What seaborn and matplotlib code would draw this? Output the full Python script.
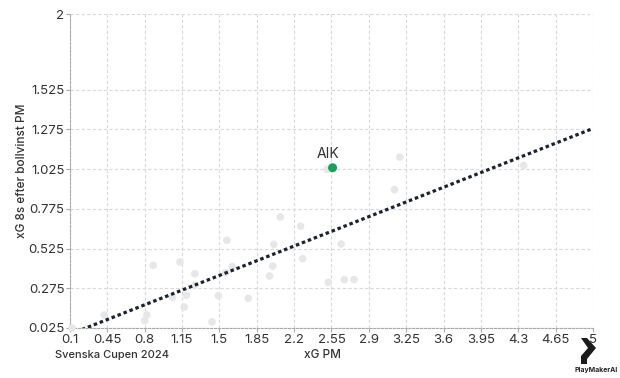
import matplotlib
matplotlib.use("Agg")
import matplotlib.pyplot as plt
import seaborn as sns
import pandas as pd
from matplotlib.patches import Polygon

# ---- data ----
team_x = [0.12, 0.42, 0.80, 0.82, 0.88, 1.06, 1.13, 1.17, 1.19, 1.27, 1.27, 1.43,
          1.49, 1.56, 1.57, 1.62, 1.77, 1.97, 2.00, 2.01, 2.07, 2.26, 2.28, 2.52,
          2.51, 2.64, 2.67, 2.76, 3.14, 3.19, 4.35]
team_y = [0.025, 0.107, 0.071, 0.107, 0.419, 0.218, 0.440, 0.157, 0.231, 0.366, 0.294, 0.063,
          0.228, 0.373, 0.577, 0.411, 0.212, 0.352, 0.415, 0.551, 0.723, 0.665, 0.461, 0.312,
          1.023, 0.553, 0.329, 0.329, 0.895, 1.100, 1.048]
highlight_name = ["AIK"]
highlight_x = [2.56]
highlight_y = [1.033]
trend_x = [0.1, 5.0]
trend_y = [-0.014, 1.28]
x_ticks = [0.1, 0.45, 0.8, 1.15, 1.5, 1.85, 2.2, 2.55, 2.9, 3.25, 3.6, 3.95, 4.3, 4.65, 5]
x_ticklabels = ["0.1", "0.45", "0.8", "1.15", "1.5", "1.85", "2.2", "2.55", "2.9", "3.25",
                "3.6", "3.95", "4.3", "4.65", "5"]
y_ticks = [0.025, 0.275, 0.525, 0.775, 1.025, 1.275, 1.525, 2]
y_ticklabels = ["0.025", "0.275", "0.525", "0.775", "1.025", "1.275", "1.525", "2"]

sns.set_theme(style="white")
plt.rcParams['font.family'] = ['Inter', 'DejaVu Sans']

fig = plt.figure(figsize=(6.2, 3.78), dpi=100)
ax = fig.add_axes([70/620, 1 - 328/378, (593 - 70)/620, (328 - 14)/378])

df = pd.DataFrame({"x": team_x, "y": team_y})
hdf = pd.DataFrame({"x": highlight_x, "y": highlight_y, "name": highlight_name})
tdf = pd.DataFrame({"x": trend_x, "y": trend_y})

sns.scatterplot(data=df, x="x", y="y", ax=ax, s=30, color="#e6e7e9", edgecolor="none",
                zorder=3, clip_on=False)
sns.lineplot(data=tdf, x="x", y="y", ax=ax, color="#1c232b", linewidth=2.3,
             linestyle=(0, (1.1, 0.9)), zorder=4)
ax.lines[-1].set_dash_capstyle("butt")
sns.scatterplot(data=hdf, x="x", y="y", ax=ax, s=42, color="#14a35a", edgecolor="none",
                zorder=5)
for n, xx, yy in zip(highlight_name, highlight_x, highlight_y):
    ax.annotate(n, (xx, yy), xytext=(-3, 5), textcoords="offset points", ha="center",
                va="bottom", fontsize=10, color="#333333")

ax.set_xlim(0.1, 5)
ax.set_ylim(0.025, 2)
ax.set_xticks(x_ticks)
ax.set_xticklabels(x_ticklabels)
ax.set_yticks(y_ticks)
ax.set_yticklabels(y_ticklabels)
ax.grid(True, color="#d9d9d9", linestyle=(0, (3, 2)), linewidth=0.8)
for s in ["top", "right"]:
    ax.spines[s].set_visible(False)
for s in ["left", "bottom"]:
    ax.spines[s].set_color("#aaaaaa")
    ax.spines[s].set_linestyle((0, (2, 1.5)))
    ax.spines[s].set_linewidth(0.8)
ax.tick_params(axis="both", which="both", length=3, width=0.8, color="#aaaaaa",
               labelsize=9.5, labelcolor="#333333", pad=1, direction="out",
               bottom=True, left=True)
ax.set_xlabel("xG PM", fontsize=8.5, color="#333333", fontweight="medium")
ax.set_ylabel("xG 8s efter bollvinst PM", fontsize=8.5, color="#333333", fontweight="medium")
ax.xaxis.set_label_coords((322 - 70)/523, (328 - 355)/314)
ax.yaxis.set_label_coords((22 - 70)/523, 0.5)
ax.xaxis.label.set_va("center")
ax.yaxis.label.set_va("center")

fig.text(55/620, 1 - 355/378, "Svenska Cupen 2024", fontsize=8, color="#333333",
         va="center", ha="left", fontweight="medium")
fig.text(596/620, 1 - 370/378, "PlayMakerAI", fontsize=5, color="#222222",
         va="center", ha="center", fontweight="bold")
logo_pts = [(px/620, 1 - py/378) for px, py in
            [(581, 338), (587, 338), (596, 348), (587, 359), (587, 364), (581, 364), (581, 356), (588, 348)]]
fig.patches.append(Polygon(logo_pts, closed=True, transform=fig.transFigure,
                           facecolor="#1b1b1b", edgecolor="none"))

fig.savefig("out.png", dpi=100)
